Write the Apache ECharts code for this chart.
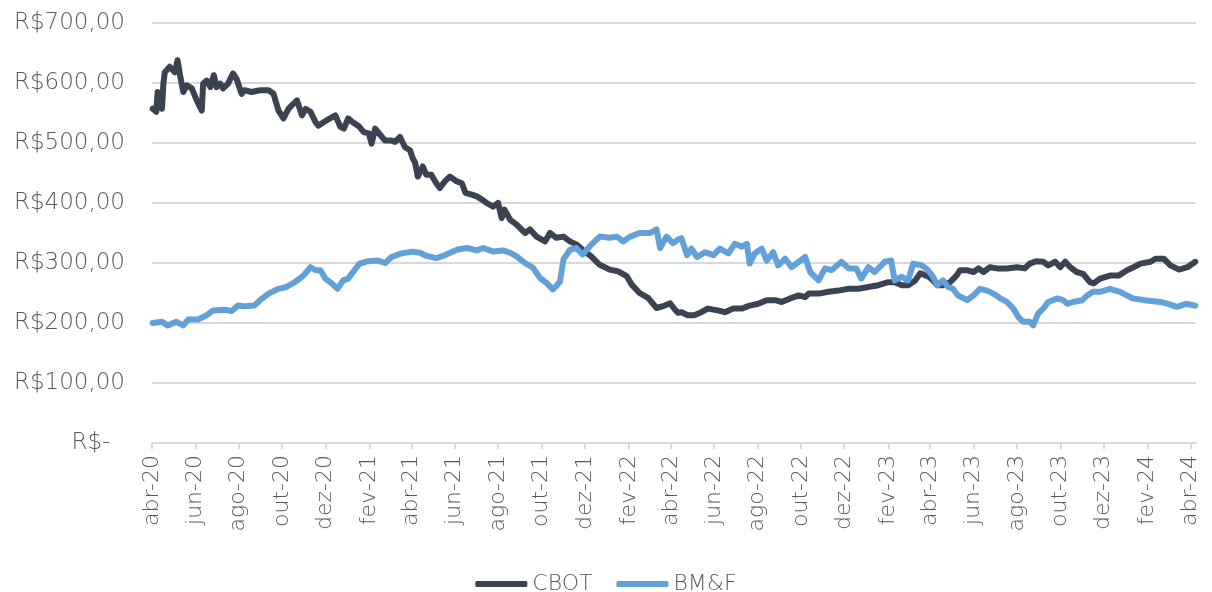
<!DOCTYPE html>
<html>
<head>
<meta charset="utf-8">
<script src="https://cdn.jsdelivr.net/npm/echarts@6/dist/echarts.min.js"></script>
<style>
  html, body { margin: 0; padding: 0; background: #ffffff; }
  #chart { width: 1212px; height: 592px; }
</style>
</head>
<body>
<div id="chart"></div>
<script>
// Axis span (daily calendar)
const startDate = '2020-04-01';
const endDate = '2024-04-09';

// Bimonthly tick marks and their labels
const tickDates = ['2020-04-01','2020-06-01','2020-08-01','2020-10-01','2020-12-01',
  '2021-02-01','2021-04-01','2021-06-01','2021-08-01','2021-10-01','2021-12-01',
  '2022-02-01','2022-04-01','2022-06-01','2022-08-01','2022-10-01','2022-12-01',
  '2023-02-01','2023-04-01','2023-06-01','2023-08-01','2023-10-01','2023-12-01',
  '2024-02-01','2024-04-01'];
const tickLabels = ['abr-20','jun-20','ago-20','out-20','dez-20',
  'fev-21','abr-21','jun-21','ago-21','out-21','dez-21',
  'fev-22','abr-22','jun-22','ago-22','out-22','dez-22',
  'fev-23','abr-23','jun-23','ago-23','out-23','dez-23',
  'fev-24','abr-24'];

// Y axis values
const yTicks = [0, 100, 200, 300, 400, 500, 600, 700];

// CBOT price (R$)
const cbot = [
  ['2020-04-02',557],['2020-04-07',552],['2020-04-09',585],['2020-04-15',557],['2020-04-17',599],
  ['2020-04-19',618],['2020-04-26',627],['2020-05-03',618],['2020-05-07',638],['2020-05-10',616],
  ['2020-05-15',585],['2020-05-20',596],['2020-05-27',591],['2020-06-03',571],['2020-06-10',554],
  ['2020-06-12',599],['2020-06-17',604],['2020-06-22',593],['2020-06-27',613],['2020-07-01',593],
  ['2020-07-06',599],['2020-07-10',591],['2020-07-17',599],['2020-07-24',616],['2020-07-29',607],
  ['2020-08-05',582],['2020-08-09',588],['2020-08-19',585],['2020-08-31',588],['2020-09-12',588],
  ['2020-09-19',582],['2020-09-26',554],['2020-10-03',541],['2020-10-10',557],['2020-10-15',563],
  ['2020-10-22',571],['2020-10-29',546],['2020-11-03',557],['2020-11-10',552],['2020-11-17',535],
  ['2020-11-21',529],['2020-12-03',538],['2020-12-15',546],['2020-12-22',527],['2020-12-27',524],
  ['2021-01-02',541],['2021-01-08',535],['2021-01-17',528],['2021-01-24',518],['2021-01-31',516],
  ['2021-02-04',499],['2021-02-09',524],['2021-02-13',518],['2021-02-23',504],['2021-03-04',504],
  ['2021-03-09',502],['2021-03-16',510],['2021-03-23',493],['2021-03-30',488],['2021-04-03',474],
  ['2021-04-06',468],['2021-04-10',444],['2021-04-17',461],['2021-04-22',447],['2021-04-29',447],
  ['2021-05-06',433],['2021-05-11',425],['2021-05-18',436],['2021-05-25',444],['2021-06-04',436],
  ['2021-06-11',433],['2021-06-16',417],['2021-06-25',414],['2021-07-02',411],['2021-07-09',406],
  ['2021-07-16',400],['2021-07-25',394],['2021-08-01',400],['2021-08-06',375],['2021-08-10',389],
  ['2021-08-18',372],['2021-08-27',364],['2021-09-08',350],['2021-09-15',356],['2021-09-24',344],
  ['2021-10-06',336],['2021-10-13',350],['2021-10-22',342],['2021-11-01',344],['2021-11-10',336],
  ['2021-11-19',331],['2021-11-28',322],['2021-12-10',311],['2021-12-22',297],['2022-01-05',289],
  ['2022-01-17',286],['2022-01-29',278],['2022-02-05',264],['2022-02-16',250],['2022-02-28',242],
  ['2022-03-12',225],['2022-03-21',228],['2022-03-31',233],['2022-04-07',222],['2022-04-11',217],
  ['2022-04-16',218],['2022-04-25',213],['2022-05-04',213],['2022-05-14',218],['2022-05-23',224],
  ['2022-06-06',221],['2022-06-16',218],['2022-06-28',224],['2022-07-10',224],['2022-07-21',229],
  ['2022-08-02',232],['2022-08-14',238],['2022-08-26',238],['2022-09-04',235],['2022-09-16',241],
  ['2022-09-28',246],['2022-10-07',243],['2022-10-12',249],['2022-10-26',249],['2022-11-09',252],
  ['2022-11-23',254],['2022-12-07',257],['2022-12-21',257],['2023-01-04',260],['2023-01-18',263],
  ['2023-02-01',268],['2023-02-10',268],['2023-02-20',263],['2023-03-01',263],['2023-03-11',271],
  ['2023-03-18',283],['2023-03-30',277],['2023-04-05',271],['2023-04-11',263],['2023-04-19',263],
  ['2023-04-29',268],['2023-05-08',279],['2023-05-13',288],['2023-05-22',288],['2023-06-01',285],
  ['2023-06-08',291],['2023-06-15',285],['2023-06-24',293],['2023-07-04',291],['2023-07-18',291],
  ['2023-08-01',293],['2023-08-12',291],['2023-08-19',299],['2023-08-28',303],['2023-09-07',302],
  ['2023-09-14',296],['2023-09-24',302],['2023-10-01',293],['2023-10-08',302],['2023-10-15',293],
  ['2023-10-24',285],['2023-11-02',282],['2023-11-12',268],['2023-11-17',266],['2023-11-26',274],
  ['2023-12-10',279],['2023-12-22',279],['2024-01-03',288],['2024-01-12',293],['2024-01-22',299],
  ['2024-02-05',302],['2024-02-12',307],['2024-02-24',307],['2024-03-04',296],['2024-03-16',289],
  ['2024-03-28',293],['2024-04-08',302]
];

// BM&F price (R$)
const bmf = [
  ['2020-04-02',200],['2020-04-15',202],['2020-04-23',196],['2020-05-05',202],['2020-05-15',196],
  ['2020-05-22',206],['2020-06-05',206],['2020-06-17',213],['2020-06-26',221],['2020-07-13',222],
  ['2020-07-22',220],['2020-07-31',229],['2020-08-09',228],['2020-08-23',229],['2020-08-31',238],
  ['2020-09-12',249],['2020-09-26',257],['2020-10-07',260],['2020-10-19',268],['2020-10-31',279],
  ['2020-11-10',293],['2020-11-17',288],['2020-11-24',288],['2020-12-01',274],['2020-12-10',266],
  ['2020-12-18',257],['2020-12-26',271],['2021-01-02',274],['2021-01-09',285],['2021-01-18',299],
  ['2021-01-30',303],['2021-02-13',304],['2021-02-23',300],['2021-03-04',310],['2021-03-18',316],
  ['2021-04-02',319],['2021-04-13',317],['2021-04-22',312],['2021-05-06',308],['2021-05-20',314],
  ['2021-06-04',322],['2021-06-18',325],['2021-07-02',321],['2021-07-11',325],['2021-07-25',319],
  ['2021-08-08',321],['2021-08-18',317],['2021-08-27',311],['2021-09-08',300],['2021-09-19',292],
  ['2021-09-29',275],['2021-10-08',267],['2021-10-17',256],['2021-10-22',262],['2021-10-27',269],
  ['2021-11-01',306],['2021-11-10',322],['2021-11-19',325],['2021-11-28',314],['2021-12-08',328],
  ['2021-12-22',344],['2022-01-05',342],['2022-01-15',344],['2022-01-24',336],['2022-02-03',344],
  ['2022-02-16',350],['2022-03-03',350],['2022-03-12',356],['2022-03-17',325],['2022-03-26',344],
  ['2022-04-04',333],['2022-04-11',339],['2022-04-16',341],['2022-04-24',313],['2022-04-30',324],
  ['2022-05-08',310],['2022-05-19',318],['2022-05-31',313],['2022-06-09',324],['2022-06-21',316],
  ['2022-06-30',332],['2022-07-10',327],['2022-07-17',332],['2022-07-21',299],['2022-07-28',316],
  ['2022-08-07',324],['2022-08-14',304],['2022-08-23',318],['2022-08-30',296],['2022-09-09',307],
  ['2022-09-18',293],['2022-09-28',302],['2022-10-07',310],['2022-10-14',285],['2022-10-26',271],
  ['2022-11-04',291],['2022-11-13',288],['2022-11-27',302],['2022-12-07',291],['2022-12-18',291],
  ['2022-12-25',274],['2023-01-04',293],['2023-01-13',285],['2023-01-27',302],['2023-02-05',304],
  ['2023-02-10',271],['2023-02-20',277],['2023-03-01',271],['2023-03-08',299],['2023-03-20',296],
  ['2023-03-29',288],['2023-04-05',277],['2023-04-11',263],['2023-04-19',271],['2023-04-26',260],
  ['2023-05-03',257],['2023-05-10',246],['2023-05-23',238],['2023-06-01',246],['2023-06-10',257],
  ['2023-06-20',254],['2023-06-29',249],['2023-07-09',241],['2023-07-18',235],['2023-07-27',224],
  ['2023-08-03',210],['2023-08-10',202],['2023-08-19',202],['2023-08-24',196],['2023-08-31',216],
  ['2023-09-07',224],['2023-09-14',235],['2023-09-27',241],['2023-10-05',238],['2023-10-11',232],
  ['2023-10-19',235],['2023-11-01',238],['2023-11-08',246],['2023-11-16',252],['2023-11-26',252],
  ['2023-12-10',257],['2023-12-24',252],['2024-01-11',241],['2024-01-28',238],['2024-02-19',235],
  ['2024-03-01',232],['2024-03-13',227],['2024-03-26',232],['2024-04-08',229]
];

// Build the list of calendar days for the category axis
function buildDays(from, to) {
  const out = [];
  const d = new Date(from + 'T00:00:00Z');
  const end = new Date(to + 'T00:00:00Z');
  while (d <= end) {
    out.push(d.toISOString().slice(0, 10));
    d.setUTCDate(d.getUTCDate() + 1);
  }
  return out;
}
const days = buildDays(startDate, endDate);
const tickSet = new Set(tickDates);
const isTick = (idx, val) => tickSet.has(val);

const textColor = '#595959';
const gridColor = '#d9d9d9';
const fontFamily = '"DejaVu Sans", sans-serif';

const chart = echarts.init(document.getElementById('chart'), null, { renderer: 'canvas' });
chart.setOption({
  animation: false,
  backgroundColor: '#ffffff',
  grid: { left: 152, right: 16, top: 23, bottom: 149, containLabel: false },
  legend: {
    data: ['CBOT', 'BM&F'],
    bottom: -8,
    left: 'center',
    icon: 'roundRect',
    itemWidth: 52,
    itemHeight: 6,
    itemGap: 24,
    textStyle: { color: textColor, fontSize: 22, fontFamily: fontFamily, fontWeight: 300 }
  },
  xAxis: {
    type: 'category',
    data: days,
    boundaryGap: false,
    axisLine: { show: true, lineStyle: { color: gridColor, width: 2 } },
    axisTick: { show: true, interval: isTick, length: 6, lineStyle: { color: gridColor, width: 2 } },
    axisLabel: {
      interval: isTick,
      rotate: 90,
      margin: 12,
      color: textColor,
      fontSize: 22,
      fontFamily: fontFamily,
      fontWeight: 300,
      formatter: (val) => tickLabels[tickDates.indexOf(val)] || ''
    },
    splitLine: { show: false }
  },
  yAxis: {
    type: 'value',
    min: yTicks[0],
    max: yTicks[yTicks.length - 1],
    interval: 100,
    axisLine: { show: false },
    axisTick: { show: false },
    axisLabel: {
      margin: 27,
      color: textColor,
      fontSize: 23,
      fontFamily: fontFamily,
      fontWeight: 300,
      formatter: (v) => v === 0 ? 'R$-  ' : 'R$' + v + ',00'
    },
    splitLine: { show: true, lineStyle: { color: gridColor, width: 2 } }
  },
  series: [
    {
      name: 'CBOT',
      type: 'line',
      data: cbot,
      showSymbol: false,
      symbol: 'none',
      color: '#3b4252',
      lineStyle: { width: 6, color: '#3b4252', cap: 'round', join: 'round' }
    },
    {
      name: 'BM&F',
      type: 'line',
      data: bmf,
      showSymbol: false,
      symbol: 'none',
      color: '#62a1d8',
      lineStyle: { width: 6, color: '#62a1d8', cap: 'round', join: 'round' }
    }
  ]
});
</script>
</body>
</html>
